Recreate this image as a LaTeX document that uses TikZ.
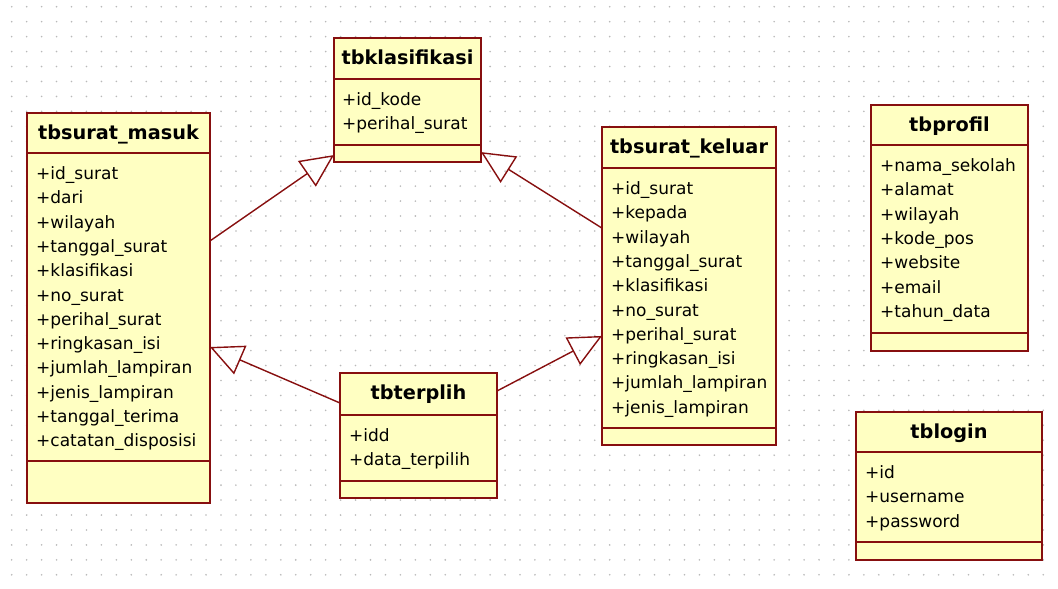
\documentclass[tikz,border=0pt]{standalone}
\usepackage{fontspec}
\setmainfont{DejaVu Sans}
\usetikzlibrary{arrows.meta,calc}
\definecolor{umlred}{RGB}{135,15,15}
\definecolor{umlfill}{RGB}{255,255,194}
\definecolor{dotc}{RGB}{185,185,185}

\begin{document}
\begin{tikzpicture}[
x=1pt, y=-1pt,
    box/.style = {rectangle, draw=umlred, fill=umlfill,% frame of one class
                  line width=1.8pt, inner sep=0pt, outer sep=0pt,
                  anchor=north west},
    sep/.style = {draw=umlred, line width=1.8pt},
    ttl/.style = {font=\bfseries\fontsize{19.3}{23}\selectfont,
                  anchor=base, inner sep=0pt},
    att/.style = {font=\fontsize{17}{20}\selectfont,
                  anchor=base west, inner sep=0pt},
    gen/.style = {draw=umlred, line width=1.4pt,
                  -{Triangle[open, length=33pt, width=31pt]}},
                        ]
\useasboundingbox[fill=white] (0,0) rectangle (1058,589);
% grid of dots
\foreach \i in {0,...,69}
  \foreach \j in {0,...,38}
    \fill[dotc] (11.7+14.95*\i, 6.7+14.95*\j) circle (0.9pt);

% tbsurat_masuk
\node[box, minimum width=183pt, minimum height=390pt] (masuk) at (27,113) {};
\node[ttl] (masuk-t) at (118.5,139) {tbsurat\_masuk};
\draw[sep] (masuk.west |- 0,153) -- (masuk.east |- 0,153)
           (masuk.west |- 0,461) -- (masuk.east |- 0,461);
\foreach \a [count=\k from 0] in {id\_surat,dari,wilayah,tanggal\_surat,
    klasifikasi,no\_surat,perihal\_surat,ringkasan\_isi,jumlah\_lampiran,
    jenis\_lampiran,tanggal\_terima,catatan\_disposisi}% <-- attributes
    \node[att] (masuk-\k) at (36,179.5+24.3*\k) {+\a};

% tbklasifikasi
\node[box, minimum width=147pt, minimum height=124pt] (klas) at (334,38) {};
\node[ttl] (klas-t) at (407.5,64) {tbklasifikasi};
\draw[sep] (klas.west |- 0,79) -- (klas.east |- 0,79)
           (klas.west |- 0,145) -- (klas.east |- 0,145);
\foreach \a [count=\k from 0] in {id\_kode,perihal\_surat}
    \node[att] (klas-\k) at (342,105.5+24.3*\k) {+\a};

% tbsurat_keluar
\node[box, minimum width=174pt, minimum height=318pt] (keluar) at (602,127) {};
\node[ttl] (keluar-t) at (689,153) {tbsurat\_keluar};
\draw[sep] (keluar.west |- 0,168) -- (keluar.east |- 0,168)
           (keluar.west |- 0,428) -- (keluar.east |- 0,428);
\foreach \a [count=\k from 0] in {id\_surat,kepada,wilayah,tanggal\_surat,
    klasifikasi,no\_surat,perihal\_surat,ringkasan\_isi,jumlah\_lampiran,
    jenis\_lampiran}
    \node[att] (keluar-\k) at (611,194.5+24.3*\k) {+\a};

% tbprofil
\node[box, minimum width=157pt, minimum height=246pt] (profil) at (871,105) {};
\node[ttl] (profil-t) at (949.5,131) {tbprofil};
\draw[sep] (profil.west |- 0,145) -- (profil.east |- 0,145)
           (profil.west |- 0,333) -- (profil.east |- 0,333);
\foreach \a [count=\k from 0] in {nama\_sekolah,alamat,wilayah,kode\_pos,
    website,email,tahun\_data}
    \node[att] (profil-\k) at (880,171.5+24.3*\k) {+\a};

% tblogin
\node[box, minimum width=186pt, minimum height=148pt] (login) at (856,412) {};
\node[ttl] (login-t) at (949,438) {tblogin};
\draw[sep] (login.west |- 0,452) -- (login.east |- 0,452)
           (login.west |- 0,542) -- (login.east |- 0,542);
\foreach \a [count=\k from 0] in {id,username,password}
    \node[att] (login-\k) at (865,478.5+24.3*\k) {+\a};

% tbterplih
\node[box, minimum width=157pt, minimum height=125pt] (terplih) at (340,373) {};
\node[ttl] (terplih-t) at (418.5,399) {tbterplih};
\draw[sep] (terplih.west |- 0,415) -- (terplih.east |- 0,415)
           (terplih.west |- 0,481) -- (terplih.east |- 0,481);
\foreach \a [count=\k from 0] in {idd,data\_terpilih}
    \node[att] (terplih-\k) at (349,441.5+24.3*\k) {+\a};

% generalisations
\draw[gen] ($(masuk.north east)!0.328!(masuk.south east)$)
        -- ($(klas.north west)!0.944!(klas.south west)$);
\draw[gen] ($(keluar.north west)!0.318!(keluar.south west)$)
        -- ($(klas.north east)!0.92!(klas.south east)$);
\draw[gen] ($(terplih.north west)!0.24!(terplih.south west)$)
        -- ($(masuk.north east)!0.6!(masuk.south east)$);
\draw[gen] ($(terplih.north east)!0.144!(terplih.south east)$)
        -- ($(keluar.north west)!0.657!(keluar.south west)$);
\end{tikzpicture}
\end{document}
